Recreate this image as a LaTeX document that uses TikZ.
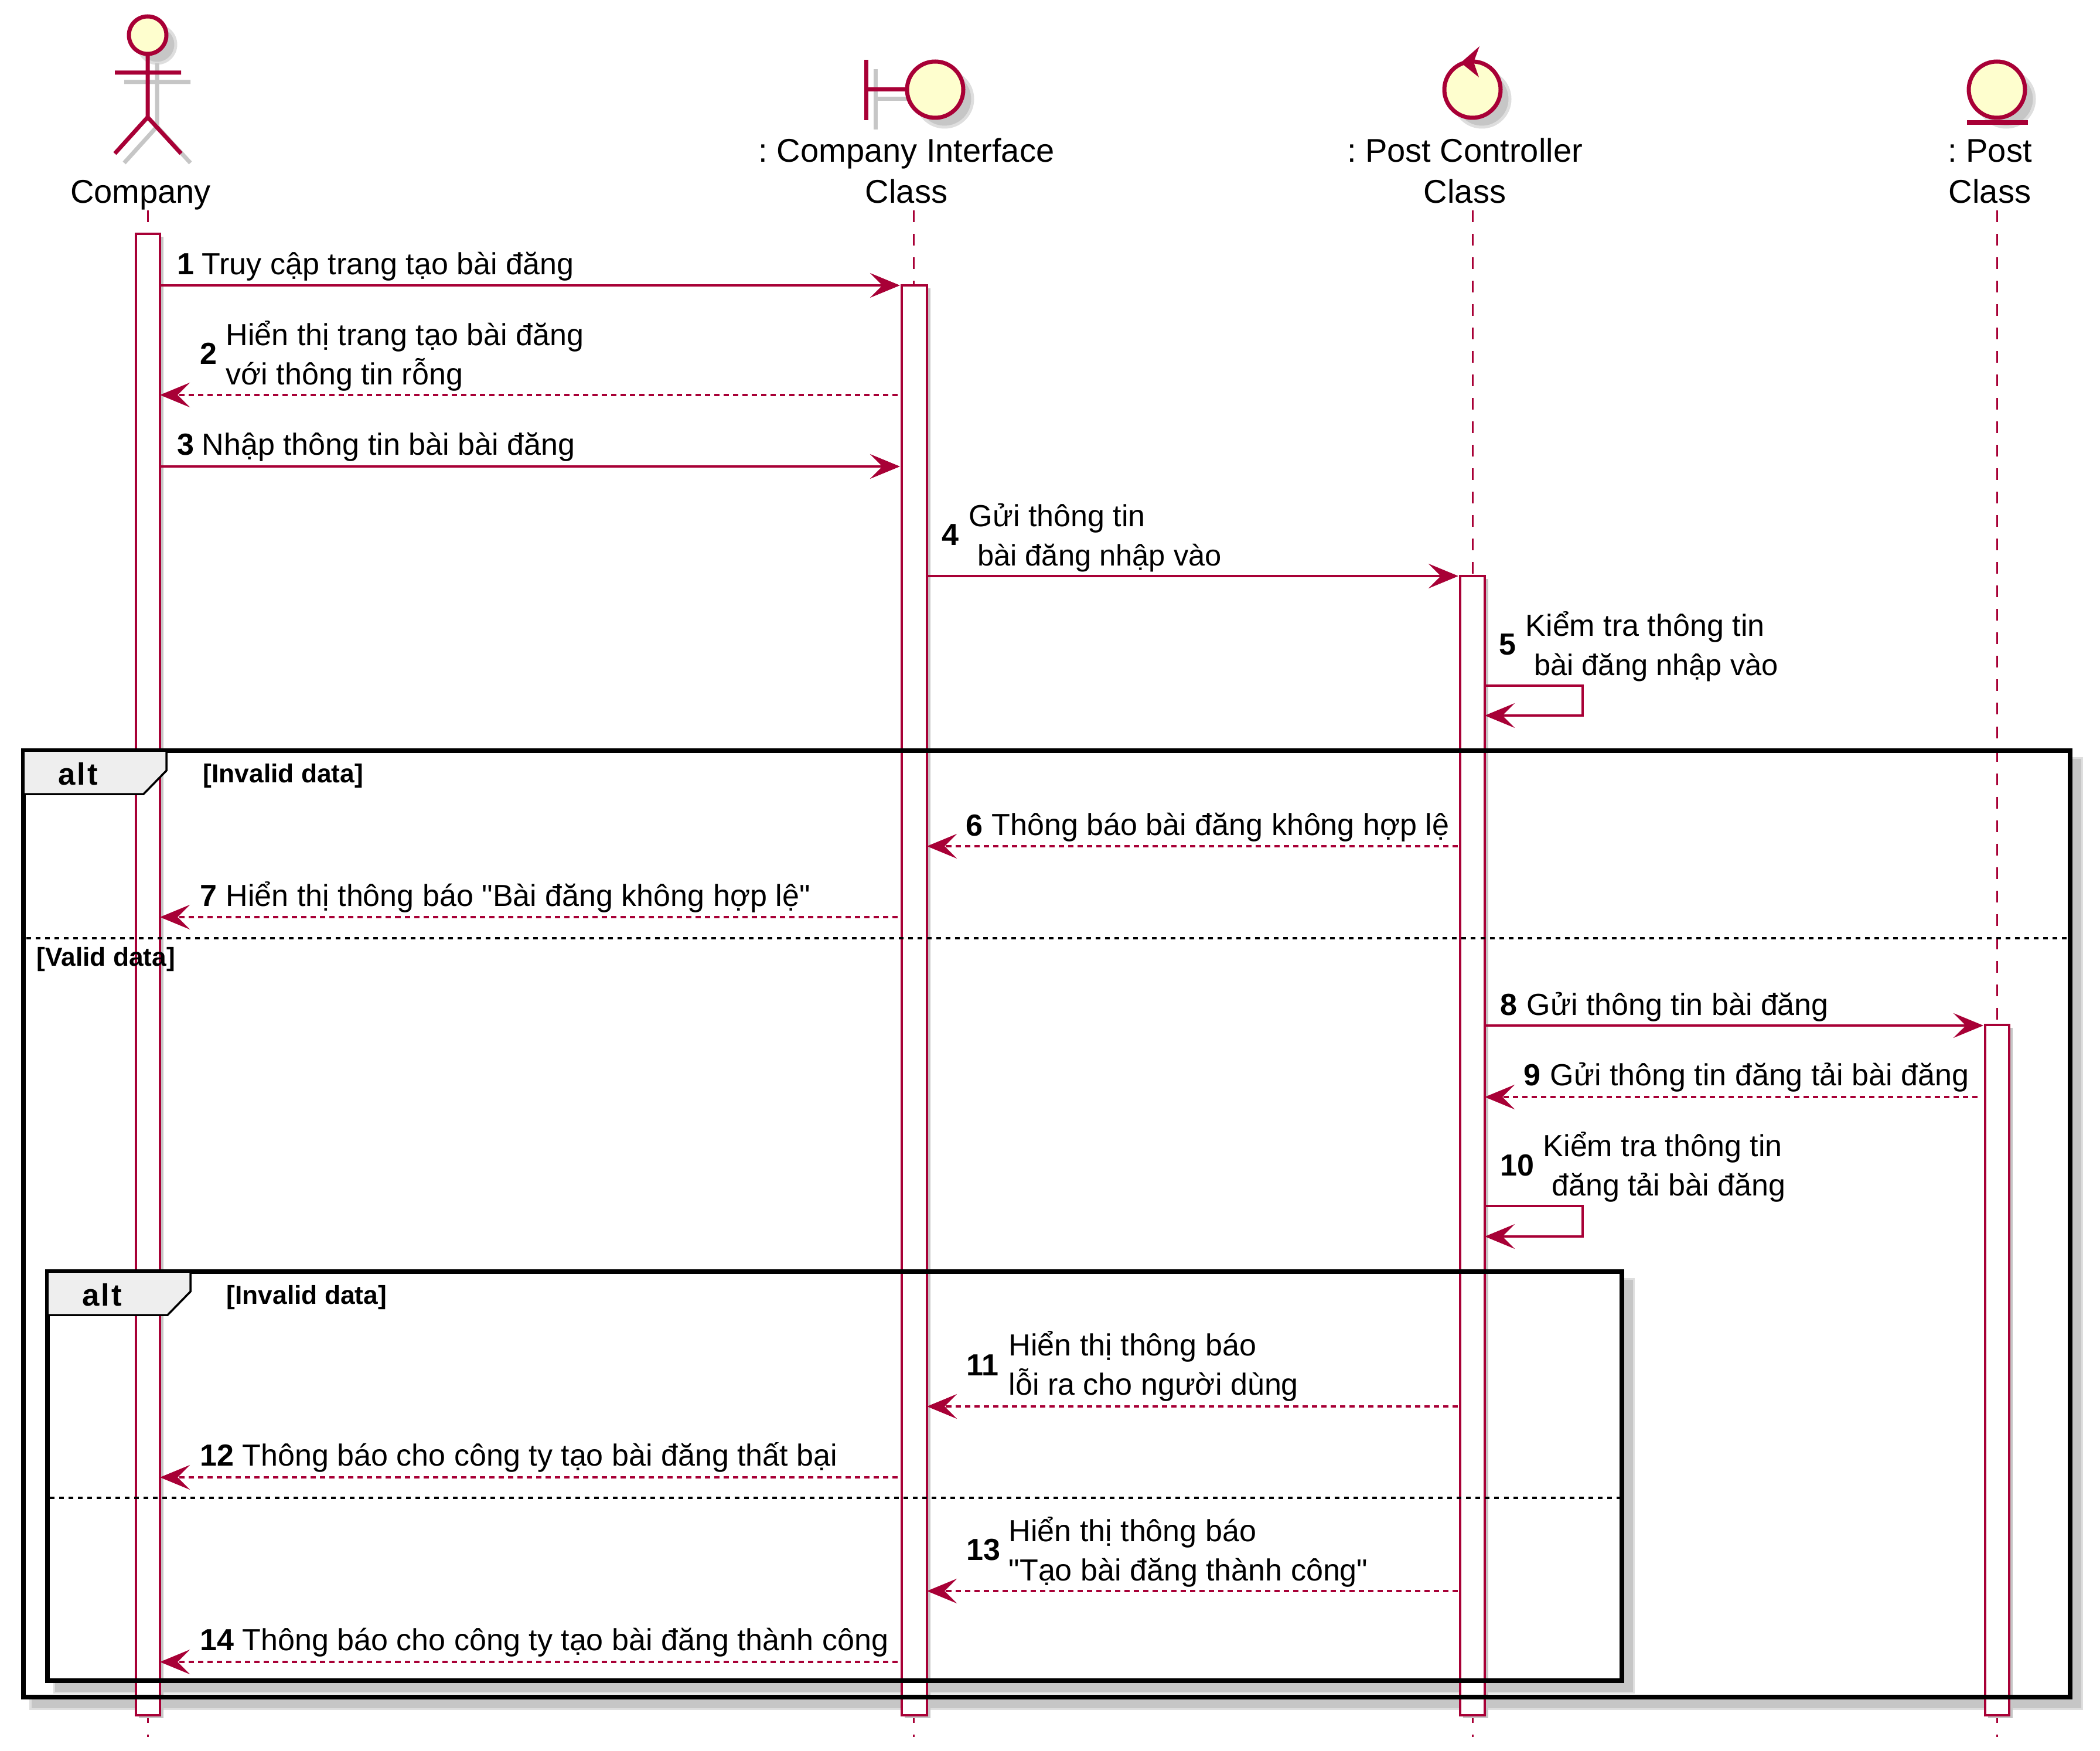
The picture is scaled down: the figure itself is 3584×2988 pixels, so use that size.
\documentclass[tikz,border=0pt]{standalone}
\usepackage{fontspec}
\setmainfont{Liberation Sans}[Ligatures=TeXOff]
\usetikzlibrary{arrows.meta}
\frenchspacing
\definecolor{plum}{HTML}{A80036}
\definecolor{cream}{HTML}{FEFECE}
\definecolor{shade}{HTML}{C6C6C6}
\definecolor{shadelt}{HTML}{DEDEDE}
\definecolor{tabfill}{HTML}{EEEEEE}
\newcommand{\tightline}{\fontsize{14.4}{18.78}\selectfont}
\tikzset{
  x=0.01cm,y=-0.01cm,
  lifeline/.style={draw=plum,line width=0.03cm,dash pattern=on 0.2cm off 0.2cm},
  iconline/.style={draw=plum,line width=0.07cm,line join=round},
  iconfill/.style={iconline,fill=cream},
  iconshadow/.style={draw=shadelt,line width=0.05cm,fill=shade},
  barbox/.style={draw=plum,line width=0.035cm,fill=white},
  barshadow/.style={fill=shade,draw=none},
  headtip/.style={-{Stealth[length=0.51cm,width=0.42cm,inset=0.21cm,color=plum]}},
  syncmsg/.style={draw=plum,line width=0.045cm,headtip,line join=miter},
  replymsg/.style={draw=plum,line width=0.045cm,dash pattern=on 0.09cm off 0.07cm,headtip},
  frameline/.style={draw=black,line width=0.075cm},
  tabshape/.style={draw=black,line width=0.035cm,fill=tabfill},
  divider/.style={draw=black,line width=0.035cm,dash pattern=on 0.08cm off 0.08cm},
  actorlabel/.style={inner sep=0pt,anchor=base,yshift=-0.02cm,font=\fontsize{15.94}{18.78}\selectfont},
  msglabel/.style={inner sep=0pt,anchor=base west,align=left,yshift=-0.02cm,font=\fontsize{14.8}{18.78}\selectfont},
  numlabel/.style={inner sep=0pt,anchor=base west,yshift=-0.02cm,font=\fontsize{14.8}{18.78}\selectfont\bfseries},
  guardlabel/.style={inner sep=0pt,anchor=base west,font=\fontsize{12.6}{16}\selectfont\bfseries},
  altlabel/.style={inner sep=0pt,anchor=base,font=\fontsize{15}{18}\selectfont\bfseries\addfontfeature{LetterSpace=6}},
}
\begin{document}
\begin{tikzpicture}
\useasboundingbox (0,0) rectangle (3584,2988);
\fill[white] (0,0) rectangle (3584,2988);

% frame shadows and interiors
\draw[shadelt,line width=0.03cm,fill=shade] (52,1293) rectangle (3553,2916);
\fill[white] (40,1281) rectangle (3533,2896);
\draw[shadelt,line width=0.03cm,fill=shade] (92,2182) rectangle (2788,2888);
\fill[white] (81,2170) rectangle (2768,2868);

% lifelines
\coordinate (la) at (252,359); \coordinate (lb) at (1559,359);
\coordinate (lc) at (2513,359); \coordinate (ld) at (3408,359);
\coordinate (laz) at (252,2964); \coordinate (lbz) at (1559,2964);
\coordinate (lcz) at (2513,2964); \coordinate (ldz) at (3408,2964);
\draw[lifeline] (la)--(laz);
\draw[lifeline] (lb)--(lbz);
\draw[lifeline] (lc)--(lcz);
\draw[lifeline] (ld)--(ldz);

% activation bars
\fill[barshadow] (237,404) rectangle (279,2932);
\draw[barbox] (232,399) rectangle (273,2927);
\fill[barshadow] (1544,492) rectangle (1588,2932);
\draw[barbox] (1539,487) rectangle (1582,2927);
\fill[barshadow] (2497,988) rectangle (2540,2932);
\draw[barbox] (2492,983) rectangle (2534,2927);
\fill[barshadow] (3393,1754) rectangle (3435,2932);
\draw[barbox] (3388,1749) rectangle (3429,2927);

% actor
\begin{scope}[shift={(16,16)}]
\draw[iconshadow] (252,60) ellipse [x radius=32,y radius=32];
\draw[draw=shade,line width=0.07cm] (252,92)--(252,200) (196,124)--(309,124) (196,262)--(252,200)--(309,262);
\end{scope}
\draw[iconline] (252,92)--(252,200) (196,124)--(309,124) (196,262)--(252,200)--(309,262);
\draw[iconfill] (252,60) ellipse [x radius=32,y radius=32];

% boundary
\begin{scope}[shift={(16,16)}]
\draw[iconshadow] (1596,153) circle [radius=48];
\draw[draw=shade,line width=0.07cm] (1478,102)--(1478,205) (1478,153)--(1548,153);
\end{scope}
\draw[iconline] (1478,102)--(1478,205) (1478,153)--(1548,153);
\draw[iconfill] (1596,153) circle [radius=48];

% control
\draw[iconshadow,shift={(16,16)}] (2513,153) circle [radius=48];
\draw[iconfill] (2513,153) circle [radius=48];
\fill[plum] (2525,79)--(2493,107)--(2524,132)--(2515,106)--cycle;

% entity
\draw[iconshadow,shift={(16,16)}] (3408,153) circle [radius=48];
\draw[iconfill] (3408,153) circle [radius=48];
\fill[plum] (3357,205) rectangle (3461,213.5);

% participant labels
\node[actorlabel] (tcompany) at (240,345) {Company};
\node[actorlabel] (tui) at (1547,275) {: Company Interface};
\node[actorlabel] (tuiclass) at (1547,345) {Class};
\node[actorlabel] (tctl) at (2500,275) {: Post Controller};
\node[actorlabel] (tctlclass) at (2500,345) {Class};
\node[actorlabel] (tpost) at (3396,275) {: Post};
\node[actorlabel] (tpostclass) at (3396,345) {Class};

% outer alt
\draw[frameline] (40,1281) rectangle (3533,2896);
\draw[tabshape] (40,1281)--(284,1281)--(284,1315)--(245,1355)--(40,1355)--cycle;
\node[altlabel] (alta) at (133,1339) {alt};
\node[guardlabel] (ga) at (346,1335) {[Invalid data]};
\draw[divider] (45,1601)--(3528,1601);
\node[guardlabel] (gb) at (62,1648) {[Valid data]};

% inner alt
\draw[frameline] (81,2170) rectangle (2768,2868);
\draw[tabshape] (81,2170)--(325,2170)--(325,2204)--(286,2244)--(81,2244)--cycle;
\node[altlabel] (altb) at (174,2228) {alt};
\node[guardlabel] (gc) at (386,2225) {[Invalid data]};
\draw[divider] (85,2556)--(2764,2556);

% message anchors
\coordinate (m1s) at (273,487);   \coordinate (m1e) at (1536,487);
\coordinate (m2s) at (1532,674);  \coordinate (m2e) at (273,674);
\coordinate (m3s) at (273,796);   \coordinate (m3e) at (1536,796);
\coordinate (m4s) at (1582,983);  \coordinate (m4e) at (2489,983);
\coordinate (m5s) at (2534,1170); \coordinate (m5t) at (2701,1170);
\coordinate (m5u) at (2701,1221); \coordinate (m5e) at (2534,1221);
\coordinate (m6s) at (2488,1444); \coordinate (m6e) at (1582,1444);
\coordinate (m7s) at (1532,1565); \coordinate (m7e) at (273,1565);
\coordinate (m8s) at (2534,1750); \coordinate (m8e) at (3385,1750);
\coordinate (m9s) at (3375,1872); \coordinate (m9e) at (2534,1872);
\coordinate (m10s) at (2534,2058); \coordinate (m10t) at (2701,2058);
\coordinate (m10u) at (2701,2110); \coordinate (m10e) at (2534,2110);
\coordinate (m11s) at (2488,2400); \coordinate (m11e) at (1582,2400);
\coordinate (m12s) at (1532,2521); \coordinate (m12e) at (273,2521);
\coordinate (m13s) at (2488,2715); \coordinate (m13e) at (1582,2715);
\coordinate (m14s) at (1532,2836); \coordinate (m14e) at (273,2836);

\draw[syncmsg] (m1s)--(m1e);
\draw[replymsg] (m2s)--(m2e);
\draw[syncmsg] (m3s)--(m3e);
\draw[syncmsg] (m4s)--(m4e);
\draw[syncmsg] (m5s)--(m5t)--(m5u)--(m5e);
\draw[replymsg] (m6s)--(m6e);
\draw[replymsg] (m7s)--(m7e);
\draw[syncmsg] (m8s)--(m8e);
\draw[replymsg] (m9s)--(m9e);
\draw[syncmsg] (m10s)--(m10t)--(m10u)--(m10e);
\draw[replymsg] (m11s)--(m11e);
\draw[replymsg] (m12s)--(m12e);
\draw[replymsg] (m13s)--(m13e);
\draw[replymsg] (m14s)--(m14e);

% message labels
\node[numlabel] (n1) at (302,467) {1};
\node[msglabel] (t1) at (344,467) {Truy cập trang tạo bài đăng};
\node[numlabel] (n2) at (341,619) {2};
\node[msglabel] (t2) at (385,654) {Hiển thị trang tạo bài đăng\\với thông tin rỗng};
\node[numlabel] (n3) at (302,774) {3};
\node[msglabel] (t3) at (344,774) {Nhập thông tin bài bài đăng};
\node[numlabel] (n4) at (1607,928) {4};
\node[msglabel] (t4) at (1653,963) {Gửi thông tin\\\hspace*{0.278em}{\tightline bài đăng nhập vào}};
\node[numlabel] (n5) at (2558,1115) {5};
\node[msglabel] (t5) at (2603,1150) {Kiểm tra thông tin\\\hspace*{0.278em}{\tightline bài đăng nhập vào}};
\node[numlabel] (n6) at (1648,1424) {6};
\node[msglabel] (t6) at (1692,1423) {Thông báo bài đăng không hợp lệ};
\node[numlabel] (n7) at (341,1544) {7};
\node[msglabel] (t7) at (385,1544) {Hiển thị thông báo "Bài đăng không hợp lệ"};
\node[numlabel] (n8) at (2560,1730) {8};
\node[msglabel] (t8) at (2605,1730) {Gửi thông tin bài đăng};
\node[numlabel] (n9) at (2600,1850) {9};
\node[msglabel] (t9) at (2645,1850) {Gửi thông tin đăng tải bài đăng};
\node[numlabel] (n10) at (2560,2004) {10};
\node[msglabel] (t10) at (2633,2038) {Kiểm tra thông tin\\\hspace*{0.278em}đăng tải bài đăng};
\node[numlabel] (n11) at (1649,2345) {11};
\node[msglabel] (t11) at (1721,2378) {Hiển thị thông báo\\lỗi ra cho người dùng};
\node[numlabel] (n12) at (341,2499) {12};
\node[msglabel] (t12) at (413,2499) {Thông báo cho công ty tạo bài đăng thất bại};
\node[numlabel] (n13) at (1649,2660) {13};
\node[msglabel] (t13) at (1721,2695) {Hiển thị thông báo\\"Tạo bài đăng thành công"};
\node[numlabel] (n14) at (341,2814) {14};
\node[msglabel] (t14) at (413,2814) {Thông báo cho công ty tạo bài đăng thành công};
\end{tikzpicture}
\end{document}
